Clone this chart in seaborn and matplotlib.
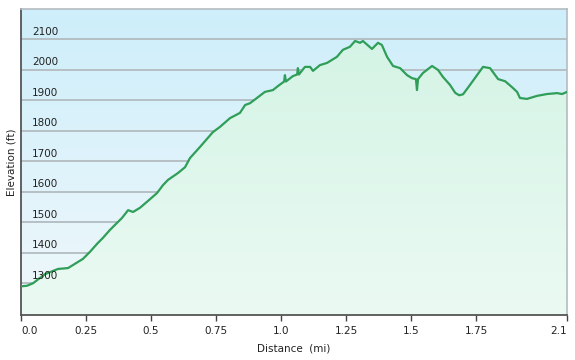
import seaborn as sns
import matplotlib.pyplot as plt
import numpy as np
import pandas as pd
from matplotlib.colors import LinearSegmentedColormap

# elevation profile (miles, feet)
distance = [0.000, 0.023, 0.046, 0.092, 0.142, 0.181, 0.200, 0.238, 0.265, 0.292,
            0.315, 0.342, 0.369, 0.388, 0.412, 0.431, 0.458, 0.488, 0.523, 0.546,
            0.565, 0.604, 0.631, 0.650, 0.688, 0.738, 0.765, 0.804, 0.842, 0.862,
            0.881, 0.912, 0.938, 0.969, 0.988, 1.012, 1.015, 1.019, 1.046, 1.062,
            1.065, 1.069, 1.092, 1.112, 1.123, 1.150, 1.177, 1.215, 1.238, 1.265,
            1.285, 1.304, 1.315, 1.350, 1.373, 1.388, 1.408, 1.431, 1.458, 1.485,
            1.504, 1.519, 1.523, 1.527, 1.546, 1.581, 1.604, 1.623, 1.650, 1.670,
            1.685, 1.700, 1.727, 1.754, 1.777, 1.804, 1.835, 1.862, 1.888, 1.908, 1.919,
            1.946, 1.985, 2.023, 2.062, 2.081, 2.100]
elevation = [1290, 1292, 1300, 1330, 1347, 1350, 1360, 1380, 1403, 1429,
             1449, 1475, 1498, 1514, 1540, 1534, 1548, 1570, 1596, 1622,
             1639, 1662, 1681, 1711, 1747, 1796, 1813, 1842, 1859, 1885,
             1891, 1911, 1928, 1934, 1947, 1962, 1983, 1962, 1980, 1985,
             2006, 1985, 2010, 2010, 1997, 2016, 2023, 2043, 2066, 2076,
             2095, 2089, 2095, 2069, 2089, 2082, 2043, 2013, 2006, 1983,
             1973, 1970, 1934, 1970, 1990, 2013, 2000, 1977, 1951, 1925,
             1917, 1920, 1951, 1983, 2010, 2006, 1970, 1963, 1944, 1928, 1908,
             1905, 1915, 1921, 1924, 1921, 1928]

x_ticks = [0, 0.25, 0.5, 0.75, 1.0, 1.25, 1.5, 1.75, 2.1]
x_labels = ['0.0', '0.25', '0.5', '0.75', '1.0', '1.25', '1.5', '1.75', '2.1']
y_ticks = [1300, 1400, 1500, 1600, 1700, 1800, 1900, 2000, 2100]

df = pd.DataFrame({'distance': distance, 'elevation': elevation})
ymin, ymax = 1196, 2200

sns.set_style("white")
plt.rcParams['font.family'] = ['DejaVu Sans']

fig = plt.figure(figsize=(5.75, 3.6), dpi=100)
ax = fig.add_axes([21 / 575, 45 / 360, 546 / 575, 306 / 360])

# background gradient (light blue at top fading to near white)
bg = LinearSegmentedColormap.from_list('bg', ['#f0f8fb', '#cdeefa'])
grad = np.linspace(0, 1, 256).reshape(-1, 1)
ax.imshow(grad, extent=[0, 2.1, ymin, ymax], origin='lower', aspect='auto', cmap=bg, zorder=0)

# green gradient under the profile
poly = ax.fill_between(df['distance'], df['elevation'], ymin, color='none', zorder=1)
fg = LinearSegmentedColormap.from_list('fg', ['#ebfaf3', '#d2f3e4'])
im = ax.imshow(grad, extent=[0, 2.1, ymin, ymax], origin='lower', aspect='auto', cmap=fg, zorder=1)
im.set_clip_path(poly.get_paths()[0], transform=ax.transData)

sns.lineplot(data=df, x='distance', y='elevation', color='#2f9e58', linewidth=1.6, ax=ax, zorder=3)

ax.set_xlim(0, 2.1)
ax.set_ylim(ymin, ymax)
ax.set_xticks(x_ticks)
ax.set_xticklabels(x_labels, fontsize=7.5, color='#222222')
lbls = ax.get_xticklabels()
lbls[0].set_horizontalalignment('left')
lbls[-1].set_horizontalalignment('right')
ax.set_yticks(y_ticks)
ax.set_yticklabels([])
ax.tick_params(axis='y', length=0)
ax.tick_params(axis='x', direction='out', length=4, width=1, color='#444444', pad=4, bottom=True)
ax.grid(axis='y', color='#b3bcc0', linewidth=1.3, zorder=2)
ax.grid(axis='x', visible=False)

for v in y_ticks:
    ax.annotate(str(v), xy=(0, v), xycoords=('axes fraction', 'data'), xytext=(8, 2),
                textcoords='offset points', fontsize=7.5, color='#222222', va='bottom', ha='left')

for side in ['top', 'right']:
    ax.spines[side].set_color('#b3bcc0')
    ax.spines[side].set_linewidth(1.2)
for side in ['left', 'bottom']:
    ax.spines[side].set_color('#555555')
    ax.spines[side].set_linewidth(1.3)

ax.set_xlabel('Distance  (mi)', fontsize=7.5, color='#222222', labelpad=5)
ax.set_ylabel('Elevation (ft)', fontsize=7.5, color='#222222')
ax.yaxis.set_label_coords(-0.008, 0.5)

plt.savefig('out.png', dpi=100)
